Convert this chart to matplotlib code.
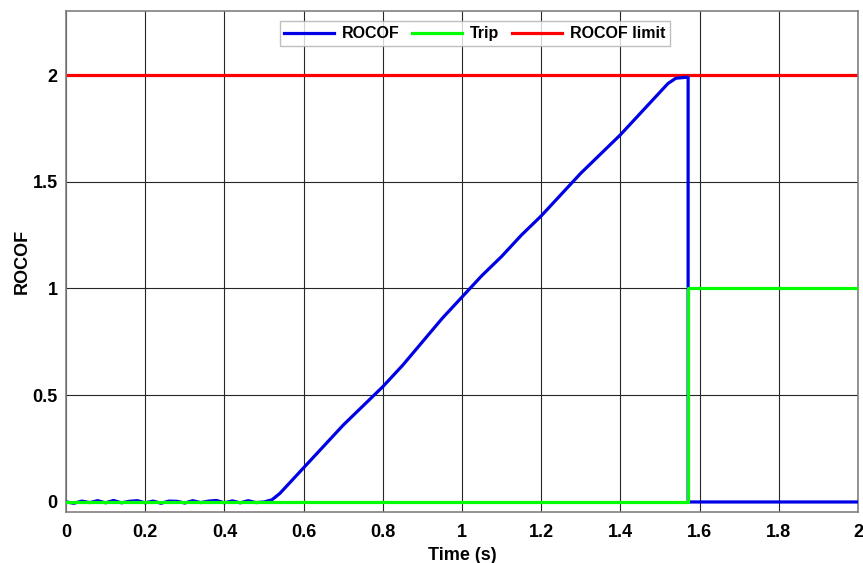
import matplotlib.pyplot as plt

# ROCOF signal
t_rocof = [0.00, 0.02, 0.04, 0.06, 0.08, 0.10, 0.12, 0.14, 0.16, 0.18, 0.20,
           0.22, 0.24, 0.26, 0.28, 0.30, 0.32, 0.34, 0.36, 0.38, 0.40, 0.42,
           0.44, 0.46, 0.48, 0.50, 0.52, 0.54, 0.56, 0.58, 0.60, 0.62, 0.65,
           0.70, 0.75, 0.80, 0.85, 0.90, 0.95, 1.00, 1.05, 1.10, 1.15, 1.20,
           1.25, 1.30, 1.35, 1.40, 1.45, 1.48, 1.50, 1.52, 1.54, 1.571, 1.571, 2.00]
rocof = [0.000, -0.006, 0.004, -0.003, 0.006, -0.004, 0.007, -0.004, 0.003, 0.006,
         -0.004, 0.004, -0.006, 0.004, 0.003, -0.005, 0.006, -0.003, 0.004, 0.007,
         -0.004, 0.005, -0.004, 0.006, -0.003, 0.000, 0.010, 0.040, 0.080, 0.120,
         0.160, 0.200, 0.260, 0.360, 0.450, 0.540, 0.640, 0.750, 0.860, 0.960,
         1.060, 1.150, 1.250, 1.340, 1.440, 1.540, 1.630, 1.720, 1.820, 1.880,
         1.920, 1.960, 1.985, 1.990, 0.000, 0.000]

t_trip = [0.0, 1.571, 1.571, 2.0]
trip = [0, 0, 1, 1]

t_limit = [0.0, 2.0]
limit = [2, 2]

plt.rcParams['font.family'] = ['Liberation Sans', 'DejaVu Sans']
plt.rcParams['font.weight'] = 'bold'

fig = plt.figure(figsize=(8.63, 5.63), dpi=100)
ax = fig.add_axes([0.0765, 0.0906, 0.9177, 0.8899])

ax.plot(t_rocof, rocof, color='#0000e6', lw=2.3, label='ROCOF', zorder=3)
ax.plot(t_trip, trip, color='#00ff00', lw=2.3, label='Trip', zorder=4)
ax.plot(t_limit, limit, color='#ff0000', lw=2.3, label='ROCOF limit', zorder=2)

ax.set_xlim(0, 2)
ax.set_ylim(-0.047, 2.3)
ax.set_xticks([0, 0.2, 0.4, 0.6, 0.8, 1, 1.2, 1.4, 1.6, 1.8, 2])
ax.set_xticklabels(['0', '0.2', '0.4', '0.6', '0.8', '1', '1.2', '1.4', '1.6', '1.8', '2'])
ax.set_yticks([0, 0.5, 1, 1.5, 2])
ax.set_yticklabels(['0', '0.5', '1', '1.5', '2'])
ax.grid(True, color='#262626', lw=0.8)
ax.tick_params(axis='x', length=0, labelsize=13, pad=9)
ax.tick_params(axis='y', length=0, labelsize=13, pad=6)
for s in ax.spines.values():
    s.set_color('#808080')
    s.set_linewidth(1.2)

ax.set_xlabel('Time (s)', fontsize=13, fontweight='bold', labelpad=4)
ax.set_ylabel('ROCOF', fontsize=13, fontweight='bold', labelpad=1)

leg = ax.legend(loc='upper center', bbox_to_anchor=(0.516, 1), ncol=3, frameon=True,
                fancybox=False, edgecolor='#b0b0b0', borderaxespad=0.65,
                handlelength=3.1, columnspacing=0.8, handletextpad=0.5,
                borderpad=0.3, prop={'weight': 'bold', 'size': 11.5})
leg.get_frame().set_linewidth(1.0)

fig.savefig('out.png', dpi=100)
